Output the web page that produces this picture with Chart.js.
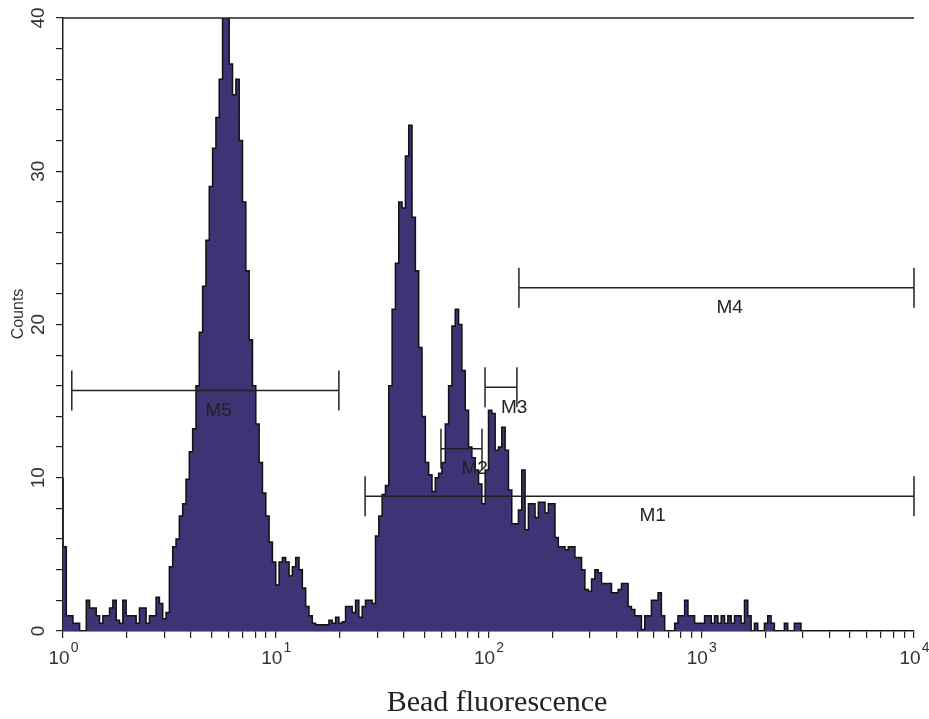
<!DOCTYPE html>
<html>
<head>
<meta charset="utf-8">
<title>Bead fluorescence histogram</title>
<script src="https://cdn.jsdelivr.net/npm/chart.js@4.4.1/dist/chart.umd.min.js"></script>
<style>
  html, body { margin: 0; padding: 0; background: #fff; }
  #wrap { width: 929px; height: 719px; }
</style>
</head>
<body>
<div id="wrap"><canvas id="histo" width="929" height="719"></canvas></div>
<script>
// 256 log channels over 4 decades (10^0 .. 10^4), counts
const counts = [
  10, 5.5, 1, 1, 0.5, 0.5, 0, 0, 2, 1.5, 1.5, 1, 0.5, 1, 1, 1.5,
  2, 0.7, 0.5, 2, 1, 1, 1, 0.5, 1.5, 1.5, 0.5, 1, 1, 2.2, 1.8, 0.8,
  1.2, 4.2, 5.5, 6, 7.5, 8.3, 9.9, 11.7, 13.2, 16, 19.5, 22.5, 25.5, 29, 31.5, 33.5,
  36, 40.5, 42, 37, 35, 36, 32, 28, 23.5, 19, 16, 13.5, 11, 9, 7.5, 5.8,
  4.5, 3, 4.5, 4.8, 4.5, 3.6, 4.2, 4.8, 4, 2.8, 1.6, 1, 0.5, 0.4, 0.4, 0.4,
  0.4, 0.7, 0.5, 0.9, 0.5, 0.6, 1.6, 1.6, 1.2, 2, 0.9, 1.6, 2, 2, 1.8, 6.2,
  7.5, 8.9, 9.5, 16, 21, 24, 28, 27.6, 31, 33, 27, 23.5, 18.5, 14, 11, 10.2,
  9.1, 10, 10.3, 11, 13.5, 16, 19.9, 21, 20, 17, 14.4, 12, 11.3, 10.5, 9.6, 8.3,
  10.5, 14.4, 14.2, 11.8, 12, 13.3, 11.8, 9.2, 7, 7, 7.9, 10.5, 6.6, 8.3, 8.3, 7.4,
  8.4, 8.4, 7.7, 8.3, 8.3, 6.1, 5.5, 5.5, 5.3, 5.5, 5.5, 4.8, 4.8, 4, 2.7, 2.6,
  3.4, 4, 3.8, 3.1, 3.1, 3.1, 2.5, 2.5, 2.7, 3.1, 3.1, 1.6, 1.4, 1, 1, 0.1,
  1, 1, 2, 2, 2.5, 1, 0, 0, 0, 0.5, 1, 1, 2, 1, 1, 0.5,
  0.5, 0.5, 1, 1, 0.5, 1, 0.5, 1, 0.5, 1, 0.5, 1, 1, 0.5, 2, 1,
  0, 0.5, 0, 0, 0.5, 1, 0.5, 0, 0, 0, 0.5, 0, 0, 0.5, 0.5, 0,
  0, 0, 0, 0, 0, 0, 0, 0, 0, 0, 0, 0, 0, 0, 0, 0,
  0, 0, 0, 0, 0, 0, 0, 0, 0, 0, 0, 0, 0, 0, 0, 0
];

const xMin = 1;
const xMax = 10000;
const decades = 4;

// x ticks: every 1..9 multiple, labels on decades only
const xTickValues = [
  1, 2, 3, 4, 5, 6, 7, 8, 9,
  10, 20, 30, 40, 50, 60, 70, 80, 90,
  100, 200, 300, 400, 500, 600, 700, 800, 900,
  1000, 2000, 3000, 4000, 5000, 6000, 7000, 8000, 9000,
  10000
];
const xLabelValues = [1, 10, 100, 1000, 10000];
const xLabelExponents = ["0", "1", "2", "3", "4"];

const yTickValues = [0, 2, 4, 6, 8, 10, 12, 14, 16, 18, 20, 22, 24, 26, 28, 30, 32, 34, 36, 38, 40];
const yLabelValues = [0, 10, 20, 30, 40];

// gates
const markerNames = ["M1", "M2", "M3", "M4", "M5"];
const markerLow = [26.3, 59.8, 96.3, 139, 1.1];
const markerHigh = [10000, 93.2, 136, 10000, 19.8];
const markerLevel = [8.8, 11.9, 15.9, 22.4, 15.7];

const ink = "#222";

// channel i starts at 10^(i*4/256)
const points = counts.map((c, i) => ({ x: Math.pow(10, (i * decades) / counts.length), y: c }));
points.push({ x: xMax, y: counts[counts.length - 1] });

const decorPlugin = {
  id: "decor",
  afterDatasetsDraw(chart) {
    const { ctx, chartArea: a, scales } = chart;
    const xs = scales.x;
    const ys = scales.y;
    ctx.save();

    // top frame line
    ctx.strokeStyle = ink;
    ctx.lineWidth = 1.5;
    ctx.beginPath();
    ctx.moveTo(a.left, a.top);
    ctx.lineTo(a.right, a.top);
    ctx.stroke();

    // gate markers
    markerNames.forEach((name, i) => {
      const x0 = xs.getPixelForValue(markerLow[i]);
      const x1 = xs.getPixelForValue(markerHigh[i]);
      const py = ys.getPixelForValue(markerLevel[i]);
      ctx.strokeStyle = ink;
      ctx.lineWidth = 1.5;
      ctx.beginPath();
      ctx.moveTo(x0, py);
      ctx.lineTo(x1, py);
      ctx.moveTo(x0, py - 20);
      ctx.lineTo(x0, py + 20);
      ctx.moveTo(x1, py - 20);
      ctx.lineTo(x1, py + 20);
      ctx.stroke();
      ctx.font = '19px "Liberation Sans", Arial, sans-serif';
      ctx.fillStyle = ink;
      ctx.textAlign = "left";
      ctx.textBaseline = "middle";
      ctx.fillText(name, (x0 + x1) / 2, py + 20);
    });

    // y tick labels, rotated
    ctx.fillStyle = "#333";
    ctx.font = '19px "Liberation Sans", Arial, sans-serif';
    ctx.textAlign = "center";
    ctx.textBaseline = "middle";
    yLabelValues.forEach((v) => {
      ctx.save();
      ctx.translate(39, ys.getPixelForValue(v));
      ctx.rotate(-Math.PI / 2);
      ctx.fillText(String(v), 0, 0);
      ctx.restore();
    });

    // y title
    ctx.save();
    ctx.font = '16px "Liberation Sans", Arial, sans-serif';
    ctx.translate(19, 314);
    ctx.rotate(-Math.PI / 2);
    ctx.fillText("Counts", 0, 0);
    ctx.restore();

    // x decade labels 10^n
    ctx.textBaseline = "alphabetic";
    ctx.textAlign = "left";
    xLabelValues.forEach((v, i) => {
      const px = xs.getPixelForValue(v);
      ctx.font = '19px "Liberation Sans", Arial, sans-serif';
      const wBase = ctx.measureText("10").width;
      ctx.font = '14px "Liberation Sans", Arial, sans-serif';
      const wExp = ctx.measureText(xLabelExponents[i]).width;
      const start = px - (wBase + wExp) / 2;
      ctx.font = '19px "Liberation Sans", Arial, sans-serif';
      ctx.fillText("10", start, 664);
      ctx.font = '14px "Liberation Sans", Arial, sans-serif';
      ctx.fillText(xLabelExponents[i], start + wBase + 1, 652);
    });

    // x title
    ctx.fillStyle = "#222";
    ctx.font = '30px "Liberation Serif", "Times New Roman", serif';
    ctx.textAlign = "center";
    ctx.textBaseline = "middle";
    ctx.fillText("Bead fluorescence", 497, 703);

    ctx.restore();
  }
};

const ctx = document.getElementById("histo").getContext("2d");

new Chart(ctx, {
  type: "line",
  data: {
    datasets: [
      {
        data: points,
        stepped: "after",
        fill: "origin",
        backgroundColor: "#3c3474",
        borderColor: "#111",
        borderWidth: 1.5,
        pointRadius: 0,
        tension: 0
      }
    ]
  },
  options: {
    responsive: false,
    devicePixelRatio: 1,
    animation: false,
    layout: { padding: { top: 18, right: 15, left: 0, bottom: 0 } },
    plugins: {
      legend: { display: false },
      tooltip: { enabled: false }
    },
    scales: {
      x: {
        type: "logarithmic",
        min: xMin,
        max: xMax,
        afterBuildTicks: (scale) => {
          scale.ticks = xTickValues.map((v) => ({ value: v }));
        },
        afterFit: (scale) => {
          scale.height = 88;
        },
        ticks: { display: false },
        grid: {
          display: true,
          drawOnChartArea: false,
          drawTicks: true,
          tickLength: 7,
          color: ink,
          lineWidth: 1.2
        },
        border: { display: true, color: ink, width: 1.5 }
      },
      y: {
        type: "linear",
        min: 0,
        max: 40,
        afterBuildTicks: (scale) => {
          scale.ticks = yTickValues.map((v) => ({ value: v }));
        },
        afterFit: (scale) => {
          scale.width = 63;
        },
        ticks: { display: false },
        grid: {
          display: true,
          drawOnChartArea: false,
          drawTicks: true,
          tickLength: 7,
          color: ink,
          lineWidth: 1.2
        },
        border: { display: true, color: ink, width: 1.5 }
      }
    }
  },
  plugins: [decorPlugin]
});
</script>
</body>
</html>
